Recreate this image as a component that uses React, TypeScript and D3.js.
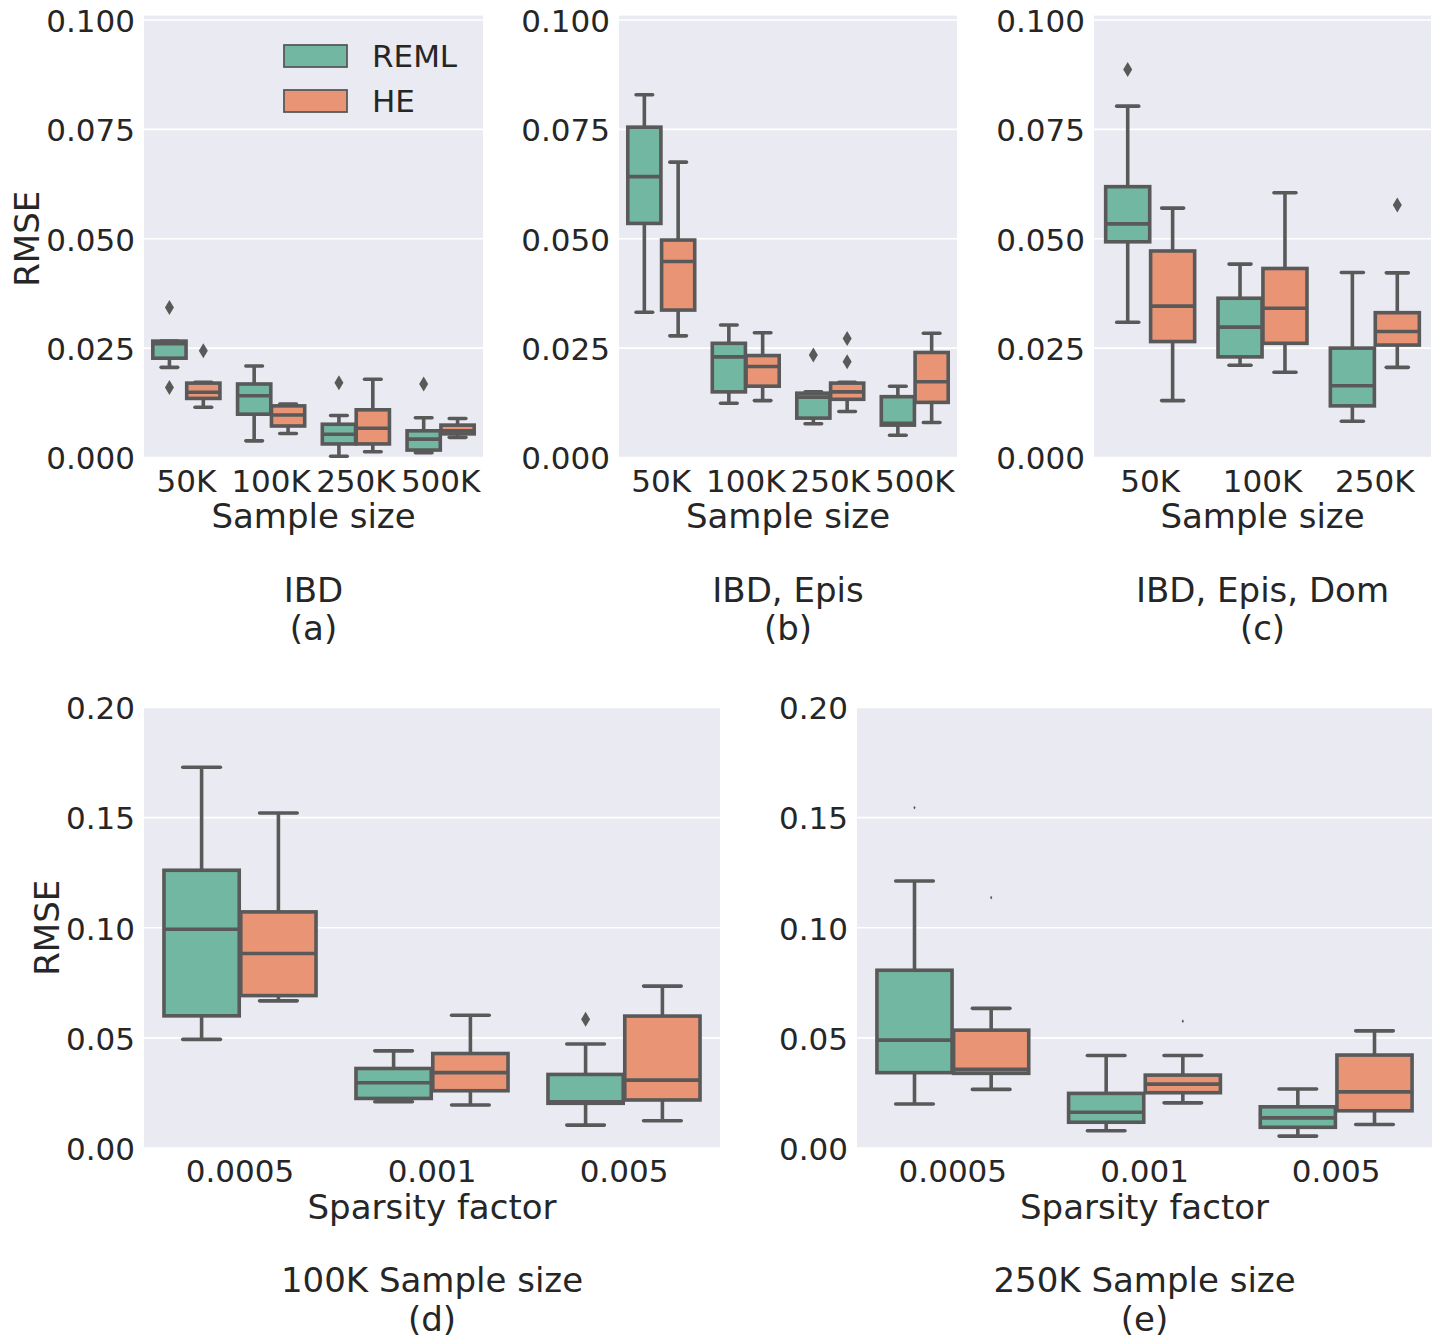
import React from "react";
import * as d3 from "d3";

const FONT = "'DejaVu Sans', sans-serif";
const TEXT = "#262626";
const LINE = "#595959";
const BG = "#eaeaf2";
const REML_COLOR = "#72b7a1";
const HE_COLOR = "#e99575";

// Each box: [lower whisker, Q1, median, Q3, upper whisker]
const catsTop = ["50K", "100K", "250K", "500K"];
const catsC = ["50K", "100K", "250K"];
const catsSparsity = ["0.0005", "0.001", "0.005"];

const remlA = [
  [0.0206, 0.0227, 0.026, 0.0266, 0.0266],
  [0.0038, 0.0099, 0.0141, 0.0168, 0.0209],
  [0.0003, 0.0031, 0.0053, 0.0076, 0.0096],
  [0.0011, 0.0017, 0.0042, 0.0061, 0.0091],
];
const heA = [
  [0.0115, 0.0135, 0.0149, 0.017, 0.0172],
  [0.0055, 0.0072, 0.0097, 0.0118, 0.0122],
  [0.0013, 0.0031, 0.0067, 0.0109, 0.0179],
  [0.0046, 0.0054, 0.0061, 0.0074, 0.0089],
];
const remlFliersA = [[0.0343, 0.016], [], [0.0171], [0.0168]];
const heFliersA = [[0.0244], [], [], []];

const remlB = [
  [0.0332, 0.0535, 0.0642, 0.0755, 0.0829],
  [0.0124, 0.015, 0.023, 0.0261, 0.0303],
  [0.0077, 0.009, 0.0138, 0.0147, 0.015],
  [0.0051, 0.0074, 0.0078, 0.0139, 0.0163],
];
const heB = [
  [0.0278, 0.0337, 0.0448, 0.0497, 0.0675],
  [0.013, 0.0163, 0.0208, 0.0233, 0.0285],
  [0.0105, 0.0133, 0.015, 0.017, 0.0172],
  [0.008, 0.0126, 0.0173, 0.024, 0.0284],
];
const remlFliersB = [[], [], [0.0234], []];
const heFliersB = [[], [], [0.0272, 0.0219], []];

const remlC = [
  [0.0309, 0.0493, 0.0534, 0.0619, 0.0803],
  [0.0211, 0.023, 0.0298, 0.0364, 0.0442],
  [0.0083, 0.0118, 0.0164, 0.025, 0.0423],
];
const heC = [
  [0.013, 0.0265, 0.0346, 0.0472, 0.057],
  [0.0195, 0.0261, 0.0341, 0.0432, 0.0605],
  [0.0206, 0.0257, 0.0288, 0.0331, 0.0422],
];
const remlFliersC = [[0.0887], [], []];
const heFliersC = [[], [], [0.0577]];

const remlD = [
  [0.0493, 0.06, 0.0993, 0.1261, 0.1729],
  [0.021, 0.0225, 0.0296, 0.0361, 0.0441],
  [0.0104, 0.0203, 0.021, 0.0334, 0.0472],
];
const heD = [
  [0.0668, 0.0692, 0.0883, 0.1072, 0.1521],
  [0.0195, 0.026, 0.0342, 0.0429, 0.0603],
  [0.0124, 0.0218, 0.0308, 0.0599, 0.0735],
];
const remlFliersD = [[], [], [0.0584]];
const heFliersD = [[], [], []];

const remlE = [
  [0.02, 0.0342, 0.049, 0.0807, 0.1212],
  [0.0078, 0.0117, 0.0162, 0.0248, 0.042],
  [0.0054, 0.0094, 0.0137, 0.0187, 0.0268],
];
const heE = [
  [0.0266, 0.0339, 0.0357, 0.0535, 0.0634],
  [0.0205, 0.0251, 0.029, 0.0331, 0.042],
  [0.0107, 0.0169, 0.0255, 0.0422, 0.0532],
];
const remlFliersE = [[0.1545], [], []];
const heFliersE = [[0.1137], [0.0576], []];

const ticksTop = [0, 0.025, 0.05, 0.075, 0.1];
const ticksBottom = [0, 0.05, 0.1, 0.15, 0.2];
const seriesNames = ["REML", "HE"];

const yTopScale = d3.scaleLinear().domain([0, 0.101]).range([457.5, 15.6]);
const yBottomScale = d3.scaleLinear().domain([0, 0.2]).range([1148, 707.5]);

const TICK_FS = 31;
const LABEL_FS = 34;

type PanelProps = {
  x0: number;
  x1: number;
  y: d3.ScaleLinear<number, number>;
  cats: string[];
  reml: number[][];
  he: number[][];
  remlFliers: number[][];
  heFliers: number[][];
  ticks: number[];
  fmt: (v: number) => string;
  xlabel: string;
  title1: string;
  title2: string;
  yLabelX?: number;
  legend?: boolean;
  flierScale?: number;
};

function Box({ cx, w, s, y, fill }: { cx: number; w: number; s: number[]; y: any; fill: string }) {
  const [lo, q1, med, q3, hi] = s;
  const capW = w * 0.5;
  const lw = 3.6;
  return (
    <g>
      <line x1={cx} x2={cx} y1={y(q1)} y2={y(lo)} stroke={LINE} strokeWidth={lw} />
      <line x1={cx} x2={cx} y1={y(q3)} y2={y(hi)} stroke={LINE} strokeWidth={lw} />
      <rect
        x={cx - w / 2}
        y={y(q3)}
        width={w}
        height={Math.max(0.01, y(q1) - y(q3))}
        fill={fill}
        stroke={LINE}
        strokeWidth={lw}
      />
      <line x1={cx - w / 2} x2={cx + w / 2} y1={y(med)} y2={y(med)} stroke={LINE} strokeWidth={lw} />
      <line x1={cx - capW / 2} x2={cx + capW / 2} y1={y(lo)} y2={y(lo)} stroke={LINE} strokeWidth={lw} strokeLinecap="round" />
      <line x1={cx - capW / 2} x2={cx + capW / 2} y1={y(hi)} y2={y(hi)} stroke={LINE} strokeWidth={lw} strokeLinecap="round" />
    </g>
  );
}

function Fliers({ cx, vals, y, k }: { cx: number; vals: number[]; y: any; k: number }) {
  return (
    <g>
      {vals.map((v, i) => {
        const py = y(v);
        const hw = 4.5 * k;
        const hh = 7.5 * k;
        return (
          <path
            key={i}
            d={`M${cx},${py - hh}L${cx + hw},${py}L${cx},${py + hh}L${cx - hw},${py}Z`}
            fill={LINE}
          />
        );
      })}
    </g>
  );
}

function Panel(p: PanelProps) {
  const x = d3.scaleBand<string>().domain(p.cats).range([p.x0, p.x1]).paddingInner(0).paddingOuter(0);
  const bw = x.bandwidth();
  const hueW = bw * 0.4;
  const boxW = hueW * 0.98;
  const [yBot, yTop] = p.y.range();
  const cxMid = (p.x0 + p.x1) / 2;
  const k = p.flierScale ?? 1;
  return (
    <g>
      <rect x={p.x0} y={yTop} width={p.x1 - p.x0} height={yBot - yTop} fill={BG} />
      {p.ticks.map((t) => (
        <line key={"g" + t} x1={p.x0} x2={p.x1} y1={p.y(t)} y2={p.y(t)} stroke="#ffffff" strokeWidth={1.6} />
      ))}
      {p.ticks.map((t) => (
        <text
          key={"t" + t}
          x={p.x0 - 9}
          y={p.y(t)}
          dy="0.38em"
          textAnchor="end"
          fontSize={TICK_FS}
          fill={TEXT}
          fontFamily={FONT}
        >
          {p.fmt(t)}
        </text>
      ))}
      {p.cats.map((c, i) => {
        const center = (x(c) as number) + bw / 2;
        return (
          <g key={c}>
            <Box cx={center - hueW / 2} w={boxW} s={p.reml[i]} y={p.y} fill={REML_COLOR} />
            <Box cx={center + hueW / 2} w={boxW} s={p.he[i]} y={p.y} fill={HE_COLOR} />
            <Fliers cx={center - hueW / 2} vals={p.remlFliers[i]} y={p.y} k={k} />
            <Fliers cx={center + hueW / 2} vals={p.heFliers[i]} y={p.y} k={k} />
            <text x={center} y={yBot + 34} textAnchor="middle" fontSize={TICK_FS} fill={TEXT} fontFamily={FONT}>
              {c}
            </text>
          </g>
        );
      })}
      <text x={cxMid} y={yBot + 70.5} textAnchor="middle" fontSize={LABEL_FS} fill={TEXT} fontFamily={FONT}>
        {p.xlabel}
      </text>
      <text x={cxMid} y={yBot + 144} textAnchor="middle" fontSize={LABEL_FS} fill={TEXT} fontFamily={FONT}>
        {p.title1}
      </text>
      <text x={cxMid} y={yBot + 182.5} textAnchor="middle" fontSize={LABEL_FS} fill={TEXT} fontFamily={FONT}>
        {p.title2}
      </text>
      {p.yLabelX !== undefined && (
        <text
          transform={`translate(${p.yLabelX},${(yBot + p.y(p.ticks[p.ticks.length - 1])) / 2}) rotate(-90)`}
          textAnchor="middle"
          fontSize={LABEL_FS}
          fill={TEXT}
          fontFamily={FONT}
        >
          RMSE
        </text>
      )}
      {p.legend && (
        <g>
          {seriesNames.map((n, i) => (
            <g key={n}>
              <rect
                x={284}
                y={45 + i * 45}
                width={63}
                height={22}
                fill={i === 0 ? REML_COLOR : HE_COLOR}
                stroke={LINE}
                strokeWidth={1.8}
              />
              <text x={372} y={56 + i * 45} dy="0.36em" fontSize={TICK_FS} fill={TEXT} fontFamily={FONT}>
                {n}
              </text>
            </g>
          ))}
        </g>
      )}
    </g>
  );
}

export default function App() {
  const f3 = d3.format(".3f");
  const f2 = d3.format(".2f");
  return (
    <svg
      width={1436}
      height={1337}
      style={{ position: "absolute", left: 0, top: 0, background: "#ffffff" }}
    >
      <rect x={0} y={0} width={1436} height={1337} fill="#ffffff" />
      <Panel x0={144} x1={483} y={yTopScale} cats={catsTop} reml={remlA} he={heA}
        remlFliers={remlFliersA} heFliers={heFliersA} ticks={ticksTop} fmt={f3}
        xlabel="Sample size" title1="IBD" title2="(a)" yLabelX={39} legend />
      <Panel x0={619} x1={957} y={yTopScale} cats={catsTop} reml={remlB} he={heB}
        remlFliers={remlFliersB} heFliers={heFliersB} ticks={ticksTop} fmt={f3}
        xlabel="Sample size" title1="IBD, Epis" title2="(b)" />
      <Panel x0={1094} x1={1431} y={yTopScale} cats={catsC} reml={remlC} he={heC}
        remlFliers={remlFliersC} heFliers={heFliersC} ticks={ticksTop} fmt={f3}
        xlabel="Sample size" title1="IBD, Epis, Dom" title2="(c)" />
      <Panel x0={144} x1={720} y={yBottomScale} cats={catsSparsity} reml={remlD} he={heD}
        remlFliers={remlFliersD} heFliers={heFliersD} ticks={ticksBottom} fmt={f2}
        xlabel="Sparsity factor" title1="100K Sample size" title2="(d)" yLabelX={58.5} />
      <Panel x0={857} x1={1432} y={yBottomScale} cats={catsSparsity} reml={remlE} he={heE}
        remlFliers={remlFliersE} heFliers={heFliersE} ticks={ticksBottom} fmt={f2}
        xlabel="Sparsity factor" title1="250K Sample size" title2="(e)" flierScale={0.25} />
    </svg>
  );
}
